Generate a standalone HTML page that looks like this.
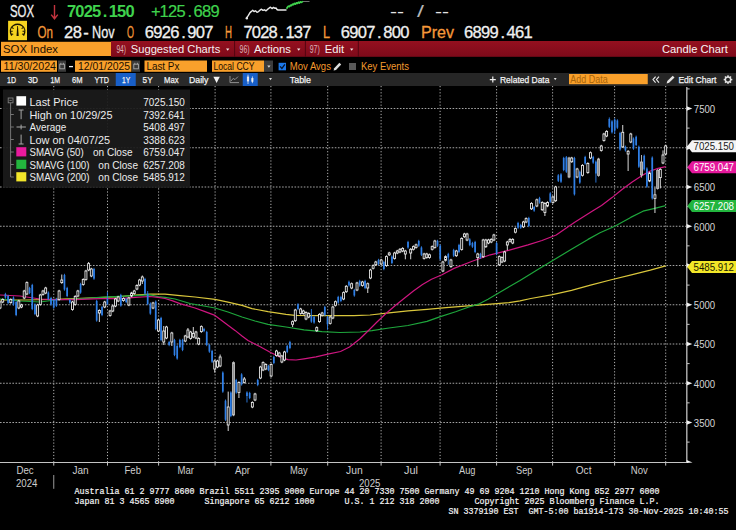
<!DOCTYPE html>
<html lang="en"><head><meta charset="utf-8"><title>SOX Index - Candle Chart</title>
<style>
html,body{margin:0;padding:0;background:#000;}
body{width:736px;height:530px;overflow:hidden;font-family:"Liberation Sans", sans-serif;}
svg{display:block;}
svg text{font-family:"Liberation Sans", sans-serif;white-space:pre;}
svg text.m{font-family:"Liberation Mono", monospace;}
</style></head><body>
<svg width="736" height="530" viewBox="0 0 736 530">
<defs><linearGradient id="rg" x1="0" y1="0" x2="0" y2="1"><stop offset="0" stop-color="#95101f"/><stop offset="1" stop-color="#7d0a1a"/></linearGradient></defs>
<rect width="736" height="530" fill="#000"/>
<text x="10" y="16.5" font-size="16.5" fill="#f0f0f0" textLength="24" lengthAdjust="spacingAndGlyphs" xml:space="preserve" stroke="#f0f0f0" stroke-width="0.3">SOX</text>
<path d="M54.5 5V18.4M51.2 14.6L54.5 18.8L57.8 14.6" stroke="#c4343f" stroke-width="1.4" fill="none"/>
<text x="71.60 79.95 88.30 96.65 105.00 113.35 121.70 130.05" y="16.5" font-size="16.5" fill="#3fd24d" stroke="#3fd24d" stroke-width="0" text-anchor="middle" font-weight="bold">7025.150</text>
<text x="155.70 164.20 172.70 181.20 189.70 198.20 206.70 215.20" y="16.5" font-size="16.5" fill="#3fd24d" stroke="#3fd24d" stroke-width="0.2" text-anchor="middle">+125.689</text>
<polyline points="246.6,19 247.2,17 248.4,15.4 250,12.6 251.4,11.4 252.7,10.2 254,11.5 255.5,10.8 257,12.3 258.5,11.6 260,10.2 261.5,9.2 263,10.4 264.5,9.8 266,10.8 267.5,9.4 269,8.2 270.5,7.2 272,8.6 273.5,7.4 275,8.4 276,8 277,9.5 278,10 286.5,10" fill="none" stroke="#e8e8e8" stroke-width="1.4" stroke-linejoin="round"/>
<circle cx="246.8" cy="18.2" r="1.2" fill="#e8e8e8"/>
<polyline points="286.5,8.8 287.5,7.2 288.5,6.2 289.5,6.6 290.5,5.2 291.5,5.6 292.5,4.2 293.5,4.6 294.5,3.4 295.5,4.2 296.5,2.8 297.5,3.4 298.5,2.2 299.5,3 300.5,1.8 301.5,2.4 303,1.4" fill="none" stroke="#3fd24d" stroke-width="1.7" stroke-linejoin="round"/>
<line x1="303" y1="1.5" x2="309.5" y2="1.5" stroke="#8a8a8a" stroke-width="0.8"/>
<text x="390" y="16.5" font-size="16.5" fill="#e4e4e4" textLength="14" lengthAdjust="spacingAndGlyphs" xml:space="preserve">--</text>
<text x="417" y="16.5" font-size="16.5" fill="#b4b4b4" textLength="7" lengthAdjust="spacingAndGlyphs" xml:space="preserve">/</text>
<text x="435" y="16.5" font-size="16.5" fill="#e4e4e4" textLength="14" lengthAdjust="spacingAndGlyphs" xml:space="preserve">--</text>
<rect x="8.1" y="20.8" width="18.9" height="19.4" fill="#f6d420"/>
<path d="M11.7 35.7C9.6 32 9.9 27.7 13.4 25.5C15.9 24 19.3 24 21.8 25.5C25.3 27.7 25.6 32 23.5 35.7" fill="none" stroke="#1a1400" stroke-width="1.35"/>
<path d="M16.5 35.9H18.7L17.95 26.1H17.25Z" fill="#1a1400"/>
<path d="M10.4 31.2h2.3M11.2 34.5l2-.5M11.9 27.5l1.7 1.1M24.8 31.2h-2.3M24 34.5l-2-.5M23.3 27.5l-1.7 1.1" stroke="#1a1400" stroke-width="1.1" fill="none"/>
<text x="37.5" y="37.5" font-size="16.5" fill="#f5993a" textLength="15.5" lengthAdjust="spacingAndGlyphs" xml:space="preserve" stroke="#f5993a" stroke-width="0.3">On</text>
<text x="68.70 77.40 86.10" y="37.5" font-size="16.5" fill="#f0f0f0" stroke="#f0f0f0" stroke-width="0.3" text-anchor="middle">28-</text>
<text x="92" y="37.5" font-size="16.5" fill="#f0f0f0" textLength="22.5" lengthAdjust="spacingAndGlyphs" xml:space="preserve" stroke="#f0f0f0" stroke-width="0.3">Nov</text>
<text x="127" y="37.5" font-size="16.5" fill="#f5993a" textLength="7" lengthAdjust="spacingAndGlyphs" xml:space="preserve" stroke="#f5993a" stroke-width="0.3">O</text>
<text x="149.45 157.95 166.45 174.95 183.45 191.95 200.45 208.95" y="37.5" font-size="16.5" fill="#f0f0f0" stroke="#f0f0f0" stroke-width="0.3" text-anchor="middle">6926.907</text>
<text x="225" y="37.5" font-size="16.5" fill="#f5993a" textLength="7" lengthAdjust="spacingAndGlyphs" xml:space="preserve" stroke="#f5993a" stroke-width="0.3">H</text>
<text x="248.00 256.40 264.80 273.20 281.60 290.00 298.40 306.80" y="37.5" font-size="16.5" fill="#f0f0f0" stroke="#f0f0f0" stroke-width="0.3" text-anchor="middle">7028.137</text>
<text x="323" y="37.5" font-size="16.5" fill="#f5993a" textLength="7" lengthAdjust="spacingAndGlyphs" xml:space="preserve" stroke="#f5993a" stroke-width="0.3">L</text>
<text x="345.30 353.80 362.30 370.80 379.30 387.80 396.30 404.80" y="37.5" font-size="16.5" fill="#f0f0f0" stroke="#f0f0f0" stroke-width="0.3" text-anchor="middle">6907.800</text>
<text x="421" y="37.5" font-size="16.5" fill="#f5993a" textLength="33" lengthAdjust="spacingAndGlyphs" xml:space="preserve" stroke="#f5993a" stroke-width="0.3">Prev</text>
<text x="468.70 477.20 485.70 494.20 502.70 511.20 519.70 528.20" y="37.5" font-size="16.5" fill="#f0f0f0" stroke="#f0f0f0" stroke-width="0.3" text-anchor="middle">6899.461</text>
<rect x="111" y="41" width="625" height="15.8" fill="url(#rg)"/>
<rect x="1" y="41.8" width="110" height="14.2" fill="#f9a02b"/>
<text x="3" y="52.5" font-size="11.6" fill="#1c1000" textLength="55" lengthAdjust="spacingAndGlyphs" xml:space="preserve">SOX Index</text>
<text x="116.4" y="52.5" font-size="11.6" fill="#dcb4ba" textLength="9.6" lengthAdjust="spacingAndGlyphs" xml:space="preserve">94)</text>
<text x="130.75" y="52.5" font-size="11.6" fill="#f6f0f0" textLength="89.5" lengthAdjust="spacingAndGlyphs" xml:space="preserve">Suggested Charts</text>
<text x="239.6" y="52.5" font-size="11.6" fill="#dcb4ba" textLength="10" lengthAdjust="spacingAndGlyphs" xml:space="preserve">96)</text>
<text x="254" y="52.5" font-size="11.6" fill="#f6f0f0" textLength="37" lengthAdjust="spacingAndGlyphs" xml:space="preserve">Actions</text>
<text x="309.75" y="52.5" font-size="11.6" fill="#dcb4ba" textLength="10" lengthAdjust="spacingAndGlyphs" xml:space="preserve">97)</text>
<text x="324.75" y="52.5" font-size="11.6" fill="#f6f0f0" textLength="19.3" lengthAdjust="spacingAndGlyphs" xml:space="preserve">Edit</text>
<path d="M226 48.4h3.4l-1.7 2.3z" fill="#f0e6e6"/>
<path d="M297 48.4h3.4l-1.7 2.3z" fill="#f0e6e6"/>
<path d="M350 48.4h3.4l-1.7 2.3z" fill="#f0e6e6"/>
<line x1="234.6" y1="41" x2="234.6" y2="56.8" stroke="#520511" stroke-width="1"/>
<line x1="305.4" y1="41" x2="305.4" y2="56.8" stroke="#520511" stroke-width="1"/>
<line x1="358.3" y1="41" x2="358.3" y2="56.8" stroke="#520511" stroke-width="1"/>
<text x="662" y="52.5" font-size="11.6" fill="#faf4f4" textLength="65.8" lengthAdjust="spacingAndGlyphs" xml:space="preserve">Candle Chart</text>
<rect x="1" y="60.5" width="56" height="11.3" fill="#f9a02b"/>
<text x="3.5" y="70" font-size="10.6" fill="#1c1000" textLength="52.5" lengthAdjust="spacingAndGlyphs" xml:space="preserve">11/30/2024</text>
<rect x="58" y="60.5" width="8" height="11.3" fill="#3a3a3a"/>
<rect x="59.8" y="64.2" width="4.6" height="4.6" fill="none" stroke="#a8a8a8" stroke-width="0.9"/><path d="M60.8 62.8v1.6M63.4 62.8v1.6" stroke="#a8a8a8" stroke-width="0.9"/>
<line x1="69" y1="66.6" x2="73" y2="66.6" stroke="#eee" stroke-width="1.3"/>
<rect x="75" y="60.5" width="56.4" height="11.3" fill="#f9a02b"/>
<text x="78" y="70" font-size="10.6" fill="#1c1000" textLength="52" lengthAdjust="spacingAndGlyphs" xml:space="preserve">12/01/2025</text>
<rect x="132" y="60.5" width="8" height="11.3" fill="#3a3a3a"/>
<rect x="133.8" y="64.2" width="4.6" height="4.6" fill="none" stroke="#a8a8a8" stroke-width="0.9"/><path d="M134.8 62.8v1.6M137.4 62.8v1.6" stroke="#a8a8a8" stroke-width="0.9"/>
<rect x="144.5" y="60.5" width="62.5" height="11.3" fill="#f9a02b"/>
<text x="146.4" y="70" font-size="10.6" fill="#1c1000" textLength="33" lengthAdjust="spacingAndGlyphs" xml:space="preserve">Last Px</text>
<rect x="212" y="60.5" width="52" height="11.3" fill="#f9a02b"/>
<text x="213.4" y="70" font-size="10.6" fill="#1c1000" textLength="41.2" lengthAdjust="spacingAndGlyphs" xml:space="preserve">Local CCY</text>
<rect x="264" y="60.5" width="9" height="11.3" fill="#3c3c3c"/>
<path d="M267.3 65.5h3.2l-1.6 2.3z" fill="#d8d8d8"/>
<rect x="278.6" y="62.8" width="7.4" height="7.5" fill="#1b78ea"/>
<path d="M280.1 66.4l1.8 2l3-4" fill="none" stroke="#06162e" stroke-width="1.3"/>
<text x="289.75" y="69.6" font-size="10.6" fill="#f39a2e" textLength="41.2" lengthAdjust="spacingAndGlyphs" xml:space="preserve">Mov Avgs</text>
<path d="M333.6 70.6l0.6-2.4l5.2-5.4l1.8 1.8l-5.2 5.4z" fill="#dcdcdc"/>
<rect x="349" y="63" width="7" height="7" fill="#585858"/>
<text x="361" y="69.6" font-size="10.6" fill="#f39a2e" textLength="48" lengthAdjust="spacingAndGlyphs" xml:space="preserve">Key Events</text>
<rect x="0" y="73" width="736" height="13" fill="#2a2a2a"/>
<rect x="320" y="73" width="416" height="13" fill="#262626"/>
<rect x="115.75" y="73" width="20.0" height="13" fill="#185fc8"/>
<text x="7" y="83.1" font-size="9.8" fill="#f4f4f4" textLength="9" lengthAdjust="spacingAndGlyphs" xml:space="preserve" stroke="#f4f4f4" stroke-width="0.25">1D</text>
<text x="28" y="83.1" font-size="9.8" fill="#f4f4f4" textLength="10" lengthAdjust="spacingAndGlyphs" xml:space="preserve" stroke="#f4f4f4" stroke-width="0.25">3D</text>
<text x="50.5" y="83.1" font-size="9.8" fill="#f4f4f4" textLength="9.6" lengthAdjust="spacingAndGlyphs" xml:space="preserve" stroke="#f4f4f4" stroke-width="0.25">1M</text>
<text x="72" y="83.1" font-size="9.8" fill="#f4f4f4" textLength="10.5" lengthAdjust="spacingAndGlyphs" xml:space="preserve" stroke="#f4f4f4" stroke-width="0.25">6M</text>
<text x="94.5" y="83.1" font-size="9.8" fill="#f4f4f4" textLength="14.5" lengthAdjust="spacingAndGlyphs" xml:space="preserve" stroke="#f4f4f4" stroke-width="0.25">YTD</text>
<text x="122" y="83.1" font-size="9.8" fill="#f4f4f4" textLength="8.2" lengthAdjust="spacingAndGlyphs" xml:space="preserve" stroke="#f4f4f4" stroke-width="0.25">1Y</text>
<text x="142.6" y="83.1" font-size="9.8" fill="#f4f4f4" textLength="10" lengthAdjust="spacingAndGlyphs" xml:space="preserve" stroke="#f4f4f4" stroke-width="0.25">5Y</text>
<text x="164" y="83.1" font-size="9.8" fill="#f4f4f4" textLength="14.6" lengthAdjust="spacingAndGlyphs" xml:space="preserve" stroke="#f4f4f4" stroke-width="0.25">Max</text>
<text x="189" y="83.1" font-size="9.8" fill="#f4f4f4" textLength="19.4" lengthAdjust="spacingAndGlyphs" xml:space="preserve" stroke="#f4f4f4" stroke-width="0.25">Daily</text>
<path d="M213.4 76.8h6.4l-3.2 6.2z" fill="#f4f4f4"/>
<path d="M230 76v6.6h9M231 81l2.2-2.6l1.8 1.2l3-3" fill="none" stroke="#9a9a9a" stroke-width="0.9"/>
<rect x="242.75" y="73" width="15.0" height="13" fill="#185fc8"/>
<g stroke="#f0f0f0" stroke-width="0.75" fill="#f0f0f0"><path d="M248 74.6v9.4M252.4 76.4v6.8"/><rect x="247.3" y="77" width="1.4" height="4"/><rect x="251.8" y="78.6" width="1.2" height="2.8"/></g>
<path d="M269 78h3l-1.5 2.2z" fill="#ddd"/>
<text x="289.75" y="83.1" font-size="9.8" fill="#f4f4f4" textLength="21.3" lengthAdjust="spacingAndGlyphs" xml:space="preserve" stroke="#f4f4f4" stroke-width="0.25">Table</text>
<path d="M492.8 76.6v6M489.8 79.6h6" stroke="#eee" stroke-width="1.2"/>
<text x="500" y="83.1" font-size="9.8" fill="#f4f4f4" textLength="49.4" lengthAdjust="spacingAndGlyphs" xml:space="preserve" stroke="#f4f4f4" stroke-width="0.25">Related Data</text>
<path d="M553.8 78h2.8l-1.4 2.2z" fill="#ddd"/>
<rect x="569" y="74" width="78.75" height="10.2" fill="#f9a02b"/>
<text x="570.3" y="82.8" font-size="10.200000000000001" fill="#a9650a" textLength="37.4" lengthAdjust="spacingAndGlyphs" xml:space="preserve">Add Data</text>
<path d="M655.6 76.6l-2.6 3l2.6 3M659 76.6l-2.6 3l2.6 3" fill="none" stroke="#eee" stroke-width="1.1"/>
<path d="M666.6 83.4l0.7-2.5l5.4-5.2l1.8 1.8l-5.4 5.2z" fill="#e4e4e4"/>
<text x="678.4" y="83.1" font-size="9.8" fill="#f4f4f4" textLength="38" lengthAdjust="spacingAndGlyphs" xml:space="preserve" stroke="#f4f4f4" stroke-width="0.25">Edit Chart</text>
<g transform="translate(728 79.6)"><circle r="2.7" fill="none" stroke="#e4e4e4" stroke-width="1.5"/><rect x="-0.75" y="-4.3" width="1.5" height="1.7" fill="#e4e4e4" transform="rotate(0)"/><rect x="-0.75" y="-4.3" width="1.5" height="1.7" fill="#e4e4e4" transform="rotate(45)"/><rect x="-0.75" y="-4.3" width="1.5" height="1.7" fill="#e4e4e4" transform="rotate(90)"/><rect x="-0.75" y="-4.3" width="1.5" height="1.7" fill="#e4e4e4" transform="rotate(135)"/><rect x="-0.75" y="-4.3" width="1.5" height="1.7" fill="#e4e4e4" transform="rotate(180)"/><rect x="-0.75" y="-4.3" width="1.5" height="1.7" fill="#e4e4e4" transform="rotate(225)"/><rect x="-0.75" y="-4.3" width="1.5" height="1.7" fill="#e4e4e4" transform="rotate(270)"/><rect x="-0.75" y="-4.3" width="1.5" height="1.7" fill="#e4e4e4" transform="rotate(315)"/></g>
<g stroke="#a4a4a4" stroke-width="1" stroke-dasharray="1.6 1.5" fill="none">
<line x1="0" y1="108.50" x2="686" y2="108.50"/>
<line x1="0" y1="147.75" x2="686" y2="147.75"/>
<line x1="0" y1="187.00" x2="686" y2="187.00"/>
<line x1="0" y1="226.25" x2="686" y2="226.25"/>
<line x1="0" y1="265.50" x2="686" y2="265.50"/>
<line x1="0" y1="304.75" x2="686" y2="304.75"/>
<line x1="0" y1="344.00" x2="686" y2="344.00"/>
<line x1="0" y1="383.25" x2="686" y2="383.25"/>
<line x1="0" y1="422.50" x2="686" y2="422.50"/>
</g><g stroke="#b2b2b2" stroke-width="1" stroke-dasharray="1.2 1.9" fill="none">
<line x1="53.75" y1="86" x2="53.75" y2="462"/>
<line x1="107.5" y1="86" x2="107.5" y2="462"/>
<line x1="158.6" y1="86" x2="158.6" y2="462"/>
<line x1="215.1" y1="86" x2="215.1" y2="462"/>
<line x1="270.9" y1="86" x2="270.9" y2="462"/>
<line x1="327.7" y1="86" x2="327.7" y2="462"/>
<line x1="381.1" y1="86" x2="381.1" y2="462"/>
<line x1="440.1" y1="86" x2="440.1" y2="462"/>
<line x1="496.6" y1="86" x2="496.6" y2="462"/>
<line x1="552.6" y1="86" x2="552.6" y2="462"/>
<line x1="614.6" y1="86" x2="614.6" y2="462"/>
<line x1="665.7" y1="86" x2="665.7" y2="462"/>
</g>
<rect x="3" y="89.5" width="187" height="98.3" fill="#1b1b1b" fill-opacity="0.93"/>
<polyline fill="none" stroke="#d9c63c" stroke-width="1.2" stroke-linejoin="round" points="0,300 25,300 50,299.5 88,298 120,296.7 135,295 150,294.2 165,294.2 180,295.6 195,297 215,299.3 228,302.2 242,305.4 252,308.6 268,311.7 286,314.3 295,315.3 320,315.7 354,315.7 370,315 389,312.8 408,310.9 427,309.4 446,307.7 465,306.1 484,304.6 497,303.6 509,302.6 520,300.8 530.8,298.5 552.5,294.6 571.5,290.3 590.5,285.2 612.3,279.5 631.3,274.8 650.3,270.2 665.7,265.8"/>
<polyline fill="none" stroke="#1ea63c" stroke-width="1.2" stroke-linejoin="round" points="0,299 20,301 40,302 55,300 75,299 100,297.4 125,296.2 150,294.9 158,296.6 165,297.3 175,299 190,303.5 215,308 228,312 242,317 255,321 268,324.3 286,327 304,329.8 322,331.6 340,332.5 360,332 372,330.6 389,328 408,325.5 427,321.4 440.4,316.6 455.6,311.8 468.9,307 478.4,304.2 488,299.2 499.4,292.6 510,286.2 520,280.6 537,270 554,259.8 571,249.5 588,239.4 600,232.8 614.8,226.2 630.7,217.4 643,211.2 653.6,208.6 665.7,205.6"/>
<polyline fill="none" stroke="#cf1680" stroke-width="1.2" stroke-linejoin="round" points="0,295 20,296 40,299 55,299.6 75,299.6 100,298.6 120,298.6 135,297.4 150,296.5 158,297.4 165,298.5 172,300.6 180,303.6 195,308 205,311.6 215,315.4 225,323 235,330.4 242,336 248,340.5 259.8,346.5 270.6,352.5 281.5,357.6 288,359.6 296,360 304,358.8 316,356.8 327.8,354.2 340.5,351.5 349.5,347 360,338.8 368,331 377,322 386,313.5 395.3,305.5 404.3,298.2 413.4,291 422.5,284.6 431.5,279.2 442,274.7 454,268.4 472.2,261.2 490.3,254.8 508.5,250.3 528,244.9 542,240.5 556.2,235 574.3,222.6 592.5,211 601.5,205.4 612,197.6 622,189.5 632.2,182 641.3,175.9 650.3,171 658,168.4 665.7,166.6"/>
<g>
<path d="M0.05 300.8V302.0M0.05 308.0V309.2" stroke="#f2f2f2" stroke-width="0.9"/><rect x="-0.93" y="302.0" width="1.96" height="6.0" fill="#000" stroke="#f2f2f2" stroke-width="0.85"/>
<path d="M2.73 298.3V299.5M2.73 302.0V303.2" stroke="#f2f2f2" stroke-width="0.9"/><rect x="1.75" y="299.5" width="1.96" height="2.5" fill="#000" stroke="#f2f2f2" stroke-width="0.85"/>
<path d="M5.42 292.8V298.8" stroke="#2f7fe6" stroke-width="0.9"/><rect x="4.57" y="294.0" width="1.7" height="3.6" fill="#2f7fe6"/>
<path d="M8.10 294.8V304.2" stroke="#2f7fe6" stroke-width="0.9"/><rect x="7.25" y="296.0" width="1.7" height="7.0" fill="#2f7fe6"/>
<path d="M10.79 298.3V299.5M10.79 302.6V303.8" stroke="#f2f2f2" stroke-width="0.9"/><rect x="9.81" y="299.5" width="1.96" height="3.1" fill="#000" stroke="#f2f2f2" stroke-width="0.85"/>
<path d="M13.47 296.4V305.7" stroke="#2f7fe6" stroke-width="0.9"/><rect x="12.62" y="297.6" width="1.7" height="6.9" fill="#2f7fe6"/>
<path d="M16.15 300.8V316.2" stroke="#2f7fe6" stroke-width="0.9"/><rect x="15.30" y="302.0" width="1.7" height="13.0" fill="#2f7fe6"/>
<path d="M18.84 299.8V301.0M18.84 308.0V309.2" stroke="#f2f2f2" stroke-width="0.9"/><rect x="17.86" y="301.0" width="1.96" height="7.0" fill="#000" stroke="#f2f2f2" stroke-width="0.85"/>
<path d="M21.52 303.8V305.0M21.52 307.0V308.2" stroke="#f2f2f2" stroke-width="0.9"/><rect x="20.54" y="305.0" width="1.96" height="2.0" fill="#000" stroke="#f2f2f2" stroke-width="0.85"/>
<path d="M24.21 289.8V291.0M24.21 298.0V299.2" stroke="#f2f2f2" stroke-width="0.9"/><rect x="23.23" y="291.0" width="1.96" height="7.0" fill="#000" stroke="#f2f2f2" stroke-width="0.85"/>
<path d="M26.89 281.4V282.6M26.89 294.0V295.2" stroke="#f2f2f2" stroke-width="0.9"/><rect x="25.91" y="282.6" width="1.96" height="11.4" fill="#000" stroke="#f2f2f2" stroke-width="0.85"/>
<path d="M29.57 286.8V294.2" stroke="#2f7fe6" stroke-width="0.9"/><rect x="28.72" y="288.0" width="1.7" height="5.0" fill="#2f7fe6"/>
<path d="M32.26 283.8V310.2" stroke="#2f7fe6" stroke-width="0.9"/><rect x="31.41" y="285.0" width="1.7" height="24.0" fill="#2f7fe6"/>
<path d="M34.94 303.3V315.2" stroke="#2f7fe6" stroke-width="0.9"/><rect x="34.09" y="304.5" width="1.7" height="9.5" fill="#2f7fe6"/>
<path d="M37.63 303.8V305.0M37.63 316.0V317.2" stroke="#f2f2f2" stroke-width="0.9"/><rect x="36.65" y="305.0" width="1.96" height="11.0" fill="#000" stroke="#f2f2f2" stroke-width="0.85"/>
<path d="M40.31 293.8V295.0M40.31 304.5V305.7" stroke="#f2f2f2" stroke-width="0.9"/><rect x="39.33" y="295.0" width="1.96" height="9.5" fill="#000" stroke="#f2f2f2" stroke-width="0.85"/>
<path d="M42.99 289.8V291.0M42.99 294.5V295.7" stroke="#f2f2f2" stroke-width="0.9"/><rect x="42.01" y="291.0" width="1.96" height="3.5" fill="#000" stroke="#f2f2f2" stroke-width="0.85"/>
<path d="M45.68 286.8V288.0M45.68 293.0V294.2" stroke="#f2f2f2" stroke-width="0.9"/><rect x="44.70" y="288.0" width="1.96" height="5.0" fill="#000" stroke="#f2f2f2" stroke-width="0.85"/>
<path d="M48.36 291.4V300.2" stroke="#2f7fe6" stroke-width="0.9"/><rect x="47.51" y="292.6" width="1.7" height="6.4" fill="#2f7fe6"/>
<path d="M51.05 296.8V305.7" stroke="#2f7fe6" stroke-width="0.9"/><rect x="50.20" y="298.0" width="1.7" height="6.5" fill="#2f7fe6"/>
<path d="M53.73 298.8V308.8" stroke="#2f7fe6" stroke-width="0.9"/><rect x="52.88" y="300.0" width="1.7" height="7.6" fill="#2f7fe6"/>
<path d="M56.41 297.8V306.9" stroke="#2f7fe6" stroke-width="0.9"/><rect x="55.56" y="299.0" width="1.7" height="6.8" fill="#2f7fe6"/>
<path d="M59.10 289.8V291.0M59.10 299.5V300.7" stroke="#f2f2f2" stroke-width="0.9"/><rect x="58.12" y="291.0" width="1.96" height="8.5" fill="#000" stroke="#f2f2f2" stroke-width="0.85"/>
<path d="M61.78 274.5V280.0M61.78 282.6V283.8" stroke="#f2f2f2" stroke-width="0.9"/><rect x="60.80" y="280.0" width="1.96" height="2.6" fill="#000" stroke="#f2f2f2" stroke-width="0.85"/>
<path d="M64.47 273.8V290.7" stroke="#2f7fe6" stroke-width="0.9"/><rect x="63.62" y="275.0" width="1.7" height="14.5" fill="#2f7fe6"/>
<path d="M67.15 286.8V297.2" stroke="#2f7fe6" stroke-width="0.9"/><rect x="66.30" y="288.0" width="1.7" height="8.0" fill="#2f7fe6"/>
<path d="M69.83 298.8V303.8" stroke="#2f7fe6" stroke-width="0.9"/><rect x="68.98" y="300.0" width="1.7" height="2.6" fill="#2f7fe6"/>
<path d="M72.52 300.8V302.0M72.52 309.5V310.7" stroke="#f2f2f2" stroke-width="0.9"/><rect x="71.54" y="302.0" width="1.96" height="7.5" fill="#000" stroke="#f2f2f2" stroke-width="0.85"/>
<path d="M75.20 295.2V296.4M75.20 304.5V305.7" stroke="#f2f2f2" stroke-width="0.9"/><rect x="74.22" y="296.4" width="1.96" height="8.1" fill="#000" stroke="#f2f2f2" stroke-width="0.85"/>
<path d="M77.89 289.8V291.0M77.89 296.0V297.2" stroke="#f2f2f2" stroke-width="0.9"/><rect x="76.91" y="291.0" width="1.96" height="5.0" fill="#000" stroke="#f2f2f2" stroke-width="0.85"/>
<path d="M80.57 282.8V293.8" stroke="#2f7fe6" stroke-width="0.9"/><rect x="79.72" y="284.0" width="1.7" height="8.6" fill="#2f7fe6"/>
<path d="M83.25 278.3V279.5M83.25 284.5V285.7" stroke="#f2f2f2" stroke-width="0.9"/><rect x="82.27" y="279.5" width="1.96" height="5.0" fill="#000" stroke="#f2f2f2" stroke-width="0.85"/>
<path d="M85.94 269.8V271.0M85.94 279.5V280.7" stroke="#f2f2f2" stroke-width="0.9"/><rect x="84.96" y="271.0" width="1.96" height="8.5" fill="#000" stroke="#f2f2f2" stroke-width="0.85"/>
<path d="M88.62 262.0V263.6M88.62 270.0V271.2" stroke="#f2f2f2" stroke-width="0.9"/><rect x="87.64" y="263.6" width="1.96" height="6.4" fill="#000" stroke="#f2f2f2" stroke-width="0.85"/>
<path d="M91.31 267.8V269.0M91.31 276.0V277.2" stroke="#f2f2f2" stroke-width="0.9"/><rect x="90.33" y="269.0" width="1.96" height="7.0" fill="#000" stroke="#f2f2f2" stroke-width="0.85"/>
<path d="M93.99 267.8V279.8" stroke="#2f7fe6" stroke-width="0.9"/><rect x="93.14" y="269.0" width="1.7" height="9.6" fill="#2f7fe6"/>
<path d="M96.67 299.8V321.7" stroke="#2f7fe6" stroke-width="0.9"/><rect x="95.82" y="301.0" width="1.7" height="19.5" fill="#2f7fe6"/>
<path d="M99.36 309.3V310.5M99.36 313.0V322.0" stroke="#f2f2f2" stroke-width="0.9"/><rect x="98.38" y="310.5" width="1.96" height="2.5" fill="#000" stroke="#f2f2f2" stroke-width="0.85"/>
<path d="M102.04 305.8V316.2" stroke="#2f7fe6" stroke-width="0.9"/><rect x="101.19" y="307.0" width="1.7" height="8.0" fill="#2f7fe6"/>
<path d="M104.73 300.8V302.0M104.73 307.0V308.2" stroke="#f2f2f2" stroke-width="0.9"/><rect x="103.75" y="302.0" width="1.96" height="5.0" fill="#000" stroke="#f2f2f2" stroke-width="0.85"/>
<path d="M107.41 292.0V305.2" stroke="#2f7fe6" stroke-width="0.9"/><rect x="106.56" y="299.0" width="1.7" height="5.0" fill="#2f7fe6"/>
<path d="M110.09 309.8V311.0M110.09 315.5V316.7" stroke="#f2f2f2" stroke-width="0.9"/><rect x="109.11" y="311.0" width="1.96" height="4.5" fill="#000" stroke="#f2f2f2" stroke-width="0.85"/>
<path d="M112.78 304.8V306.0M112.78 311.0V312.2" stroke="#f2f2f2" stroke-width="0.9"/><rect x="111.80" y="306.0" width="1.96" height="5.0" fill="#000" stroke="#f2f2f2" stroke-width="0.85"/>
<path d="M115.46 297.8V299.0M115.46 306.0V307.2" stroke="#f2f2f2" stroke-width="0.9"/><rect x="114.48" y="299.0" width="1.96" height="7.0" fill="#000" stroke="#f2f2f2" stroke-width="0.85"/>
<path d="M118.15 295.8V297.0M118.15 301.0V302.2" stroke="#f2f2f2" stroke-width="0.9"/><rect x="117.17" y="297.0" width="1.96" height="4.0" fill="#000" stroke="#f2f2f2" stroke-width="0.85"/>
<path d="M120.83 293.8V306.7" stroke="#2f7fe6" stroke-width="0.9"/><rect x="119.98" y="295.0" width="1.7" height="10.5" fill="#2f7fe6"/>
<path d="M123.51 297.4V298.6M123.51 300.5V301.7" stroke="#f2f2f2" stroke-width="0.9"/><rect x="122.53" y="298.6" width="1.96" height="1.9" fill="#000" stroke="#f2f2f2" stroke-width="0.85"/>
<path d="M126.20 297.8V303.2" stroke="#2f7fe6" stroke-width="0.9"/><rect x="125.35" y="299.0" width="1.7" height="3.0" fill="#2f7fe6"/>
<path d="M128.88 296.8V298.0M128.88 305.0V306.2" stroke="#f2f2f2" stroke-width="0.9"/><rect x="127.90" y="298.0" width="1.96" height="7.0" fill="#000" stroke="#f2f2f2" stroke-width="0.85"/>
<path d="M131.57 291.8V293.0M131.57 296.0V297.2" stroke="#f2f2f2" stroke-width="0.9"/><rect x="130.59" y="293.0" width="1.96" height="3.0" fill="#000" stroke="#f2f2f2" stroke-width="0.85"/>
<path d="M134.25 289.8V291.0M134.25 293.6V294.8" stroke="#f2f2f2" stroke-width="0.9"/><rect x="133.27" y="291.0" width="1.96" height="2.6" fill="#000" stroke="#f2f2f2" stroke-width="0.85"/>
<path d="M136.93 284.3V285.5M136.93 289.0V290.2" stroke="#f2f2f2" stroke-width="0.9"/><rect x="135.95" y="285.5" width="1.96" height="3.5" fill="#000" stroke="#f2f2f2" stroke-width="0.85"/>
<path d="M139.62 278.8V280.0M139.62 285.0V286.2" stroke="#f2f2f2" stroke-width="0.9"/><rect x="138.64" y="280.0" width="1.96" height="5.0" fill="#000" stroke="#f2f2f2" stroke-width="0.85"/>
<path d="M142.30 275.5V277.0M142.30 281.0V284.0" stroke="#f2f2f2" stroke-width="0.9"/><rect x="141.32" y="277.0" width="1.96" height="4.0" fill="#000" stroke="#f2f2f2" stroke-width="0.85"/>
<path d="M144.99 277.8V294.8" stroke="#2f7fe6" stroke-width="0.9"/><rect x="144.14" y="279.0" width="1.7" height="14.6" fill="#2f7fe6"/>
<path d="M147.67 291.0V305.2" stroke="#2f7fe6" stroke-width="0.9"/><rect x="146.82" y="293.6" width="1.7" height="10.4" fill="#2f7fe6"/>
<path d="M150.35 302.4V314.8" stroke="#2f7fe6" stroke-width="0.9"/><rect x="149.50" y="303.6" width="1.7" height="10.0" fill="#2f7fe6"/>
<path d="M153.04 301.8V303.0M153.04 308.0V309.2" stroke="#f2f2f2" stroke-width="0.9"/><rect x="152.06" y="303.0" width="1.96" height="5.0" fill="#000" stroke="#f2f2f2" stroke-width="0.85"/>
<path d="M155.72 300.4V330.2" stroke="#2f7fe6" stroke-width="0.9"/><rect x="154.87" y="301.6" width="1.7" height="27.4" fill="#2f7fe6"/>
<path d="M158.41 318.8V320.0M158.41 331.0V332.0" stroke="#f2f2f2" stroke-width="0.9"/><rect x="157.43" y="320.0" width="1.96" height="11.0" fill="#000" stroke="#f2f2f2" stroke-width="0.85"/>
<path d="M161.09 316.8V341.2" stroke="#2f7fe6" stroke-width="0.9"/><rect x="160.24" y="318.0" width="1.7" height="22.0" fill="#2f7fe6"/>
<path d="M163.77 326.0V331.0M163.77 342.0V345.0" stroke="#f2f2f2" stroke-width="0.9"/><rect x="162.79" y="331.0" width="1.96" height="11.0" fill="#000" stroke="#f2f2f2" stroke-width="0.85"/>
<path d="M166.46 325.8V327.0M166.46 338.0V339.2" stroke="#f2f2f2" stroke-width="0.9"/><rect x="165.48" y="327.0" width="1.96" height="11.0" fill="#000" stroke="#f2f2f2" stroke-width="0.85"/>
<path d="M169.14 340.8V346.2" stroke="#2f7fe6" stroke-width="0.9"/><rect x="168.29" y="342.0" width="1.7" height="3.0" fill="#2f7fe6"/>
<path d="M171.83 331.8V333.0M171.83 342.0V346.0" stroke="#f2f2f2" stroke-width="0.9"/><rect x="170.85" y="333.0" width="1.96" height="9.0" fill="#000" stroke="#f2f2f2" stroke-width="0.85"/>
<path d="M174.51 338.8V356.2" stroke="#2f7fe6" stroke-width="0.9"/><rect x="173.66" y="340.0" width="1.7" height="15.0" fill="#2f7fe6"/>
<path d="M177.19 344.8V359.7" stroke="#2f7fe6" stroke-width="0.9"/><rect x="176.34" y="346.0" width="1.7" height="12.5" fill="#2f7fe6"/>
<path d="M179.88 338.8V348.2" stroke="#2f7fe6" stroke-width="0.9"/><rect x="179.03" y="340.0" width="1.7" height="7.0" fill="#2f7fe6"/>
<path d="M182.56 338.8V351.2" stroke="#2f7fe6" stroke-width="0.9"/><rect x="181.71" y="340.0" width="1.7" height="10.0" fill="#2f7fe6"/>
<path d="M185.25 334.8V336.0M185.25 341.0V342.2" stroke="#f2f2f2" stroke-width="0.9"/><rect x="184.27" y="336.0" width="1.96" height="5.0" fill="#000" stroke="#f2f2f2" stroke-width="0.85"/>
<path d="M187.93 328.0V330.0M187.93 337.0V338.2" stroke="#f2f2f2" stroke-width="0.9"/><rect x="186.95" y="330.0" width="1.96" height="7.0" fill="#000" stroke="#f2f2f2" stroke-width="0.85"/>
<path d="M190.61 330.8V332.0M190.61 338.5V339.7" stroke="#f2f2f2" stroke-width="0.9"/><rect x="189.63" y="332.0" width="1.96" height="6.5" fill="#000" stroke="#f2f2f2" stroke-width="0.85"/>
<path d="M193.30 327.0V333.5M193.30 337.0V338.2" stroke="#f2f2f2" stroke-width="0.9"/><rect x="192.32" y="333.5" width="1.96" height="3.5" fill="#000" stroke="#f2f2f2" stroke-width="0.85"/>
<path d="M195.98 330.8V332.0M195.98 338.0V339.2" stroke="#f2f2f2" stroke-width="0.9"/><rect x="195.00" y="332.0" width="1.96" height="6.0" fill="#000" stroke="#f2f2f2" stroke-width="0.85"/>
<path d="M198.67 337.3V338.5M198.67 344.0V345.2" stroke="#f2f2f2" stroke-width="0.9"/><rect x="197.69" y="338.5" width="1.96" height="5.5" fill="#000" stroke="#f2f2f2" stroke-width="0.85"/>
<path d="M201.35 325.4V326.6M201.35 331.6V332.8" stroke="#f2f2f2" stroke-width="0.9"/><rect x="200.37" y="326.6" width="1.96" height="5.0" fill="#000" stroke="#f2f2f2" stroke-width="0.85"/>
<path d="M204.03 327.8V332.2" stroke="#2f7fe6" stroke-width="0.9"/><rect x="203.18" y="329.0" width="1.7" height="2.0" fill="#2f7fe6"/>
<path d="M206.72 330.8V346.2" stroke="#2f7fe6" stroke-width="0.9"/><rect x="205.87" y="332.0" width="1.7" height="13.0" fill="#2f7fe6"/>
<path d="M209.40 343.8V352.8" stroke="#2f7fe6" stroke-width="0.9"/><rect x="208.55" y="345.0" width="1.7" height="6.6" fill="#2f7fe6"/>
<path d="M212.09 349.8V362.9" stroke="#2f7fe6" stroke-width="0.9"/><rect x="211.24" y="351.0" width="1.7" height="10.7" fill="#2f7fe6"/>
<path d="M214.77 359.8V361.0M214.77 369.0V372.6" stroke="#f2f2f2" stroke-width="0.9"/><rect x="213.79" y="361.0" width="1.96" height="8.0" fill="#000" stroke="#f2f2f2" stroke-width="0.85"/>
<path d="M217.45 359.8V361.0M217.45 367.0V368.2" stroke="#f2f2f2" stroke-width="0.9"/><rect x="216.47" y="361.0" width="1.96" height="6.0" fill="#000" stroke="#f2f2f2" stroke-width="0.85"/>
<path d="M220.14 354.5V357.0M220.14 366.0V367.2" stroke="#f2f2f2" stroke-width="0.9"/><rect x="219.16" y="357.0" width="1.96" height="9.0" fill="#000" stroke="#f2f2f2" stroke-width="0.85"/>
<path d="M222.82 371.4V392.8" stroke="#2f7fe6" stroke-width="0.9"/><rect x="221.97" y="372.6" width="1.7" height="19.0" fill="#2f7fe6"/>
<path d="M225.51 399.5V420.9" stroke="#2f7fe6" stroke-width="0.9"/><rect x="224.66" y="400.7" width="1.7" height="19.0" fill="#2f7fe6"/>
<path d="M228.19 391.6V407.0M228.19 425.0V431.0" stroke="#f2f2f2" stroke-width="0.9"/><rect x="227.21" y="407.0" width="1.96" height="18.0" fill="#000" stroke="#f2f2f2" stroke-width="0.85"/>
<path d="M230.87 391.3V417.2" stroke="#2f7fe6" stroke-width="0.9"/><rect x="230.02" y="392.5" width="1.7" height="23.5" fill="#2f7fe6"/>
<path d="M233.56 361.4V362.6M233.56 415.0V416.2" stroke="#c4c4c4" stroke-width="0.9"/><rect x="232.58" y="362.6" width="1.96" height="52.4" fill="#8e8e8e" stroke="#c4c4c4" stroke-width="0.85"/>
<path d="M236.24 378.8V393.7" stroke="#2f7fe6" stroke-width="0.9"/><rect x="235.39" y="380.0" width="1.7" height="12.5" fill="#2f7fe6"/>
<path d="M238.93 381.3V382.5M238.93 392.5V398.0" stroke="#f2f2f2" stroke-width="0.9"/><rect x="237.95" y="382.5" width="1.96" height="10.0" fill="#000" stroke="#f2f2f2" stroke-width="0.85"/>
<path d="M241.61 373.2V385.6" stroke="#2f7fe6" stroke-width="0.9"/><rect x="240.76" y="374.4" width="1.7" height="10.0" fill="#2f7fe6"/>
<path d="M244.29 377.0V379.0M244.29 382.5V383.5" stroke="#f2f2f2" stroke-width="0.9"/><rect x="243.31" y="379.0" width="1.96" height="3.5" fill="#000" stroke="#f2f2f2" stroke-width="0.85"/>
<path d="M246.98 391.3V402.5" stroke="#2f7fe6" stroke-width="0.9"/><rect x="246.13" y="392.5" width="1.7" height="3.5" fill="#2f7fe6"/>
<path d="M249.66 391.8V399.2" stroke="#2f7fe6" stroke-width="0.9"/><rect x="248.81" y="393.0" width="1.7" height="5.0" fill="#2f7fe6"/>
<path d="M252.35 401.3V402.5M252.35 407.0V408.2" stroke="#f2f2f2" stroke-width="0.9"/><rect x="251.37" y="402.5" width="1.96" height="4.5" fill="#000" stroke="#f2f2f2" stroke-width="0.85"/>
<path d="M255.03 392.8V394.0M255.03 400.0V401.2" stroke="#f2f2f2" stroke-width="0.9"/><rect x="254.05" y="394.0" width="1.96" height="6.0" fill="#000" stroke="#f2f2f2" stroke-width="0.85"/>
<path d="M257.71 378.8V386.2" stroke="#2f7fe6" stroke-width="0.9"/><rect x="256.86" y="380.0" width="1.7" height="5.0" fill="#2f7fe6"/>
<path d="M260.40 365.8V367.0M260.40 378.0V379.2" stroke="#f2f2f2" stroke-width="0.9"/><rect x="259.42" y="367.0" width="1.96" height="11.0" fill="#000" stroke="#f2f2f2" stroke-width="0.85"/>
<path d="M263.08 361.4V362.6M263.08 370.0V371.2" stroke="#f2f2f2" stroke-width="0.9"/><rect x="262.10" y="362.6" width="1.96" height="7.4" fill="#000" stroke="#f2f2f2" stroke-width="0.85"/>
<path d="M265.77 363.3V364.5M265.77 369.0V370.2" stroke="#f2f2f2" stroke-width="0.9"/><rect x="264.79" y="364.5" width="1.96" height="4.5" fill="#000" stroke="#f2f2f2" stroke-width="0.85"/>
<path d="M268.45 364.8V371.2" stroke="#2f7fe6" stroke-width="0.9"/><rect x="267.60" y="366.0" width="1.7" height="4.0" fill="#2f7fe6"/>
<path d="M271.13 363.3V364.5M271.13 376.0V377.2" stroke="#f2f2f2" stroke-width="0.9"/><rect x="270.15" y="364.5" width="1.96" height="11.5" fill="#000" stroke="#f2f2f2" stroke-width="0.85"/>
<path d="M273.82 355.8V364.2" stroke="#2f7fe6" stroke-width="0.9"/><rect x="272.97" y="357.0" width="1.7" height="6.0" fill="#2f7fe6"/>
<path d="M276.50 349.8V351.0M276.50 355.4V356.6" stroke="#f2f2f2" stroke-width="0.9"/><rect x="275.52" y="351.0" width="1.96" height="4.4" fill="#000" stroke="#f2f2f2" stroke-width="0.85"/>
<path d="M279.19 351.8V353.0M279.19 356.0V357.2" stroke="#f2f2f2" stroke-width="0.9"/><rect x="278.21" y="353.0" width="1.96" height="3.0" fill="#000" stroke="#f2f2f2" stroke-width="0.85"/>
<path d="M281.87 354.8V356.0M281.87 362.0V363.2" stroke="#f2f2f2" stroke-width="0.9"/><rect x="280.89" y="356.0" width="1.96" height="6.0" fill="#000" stroke="#f2f2f2" stroke-width="0.85"/>
<path d="M284.55 350.8V352.0M284.55 360.0V361.2" stroke="#f2f2f2" stroke-width="0.9"/><rect x="283.57" y="352.0" width="1.96" height="8.0" fill="#000" stroke="#f2f2f2" stroke-width="0.85"/>
<path d="M287.24 344.8V353.2" stroke="#2f7fe6" stroke-width="0.9"/><rect x="286.39" y="346.0" width="1.7" height="6.0" fill="#2f7fe6"/>
<path d="M289.92 340.8V349.2" stroke="#2f7fe6" stroke-width="0.9"/><rect x="289.07" y="342.0" width="1.7" height="6.0" fill="#2f7fe6"/>
<path d="M292.61 320.4V321.6M292.61 324.3V327.0" stroke="#f2f2f2" stroke-width="0.9"/><rect x="291.63" y="321.6" width="1.96" height="2.7" fill="#000" stroke="#f2f2f2" stroke-width="0.85"/>
<path d="M295.29 308.8V310.0M295.29 320.7V321.9" stroke="#f2f2f2" stroke-width="0.9"/><rect x="294.31" y="310.0" width="1.96" height="10.7" fill="#000" stroke="#f2f2f2" stroke-width="0.85"/>
<path d="M297.97 303.2V310.2" stroke="#2f7fe6" stroke-width="0.9"/><rect x="297.12" y="304.4" width="1.7" height="4.6" fill="#2f7fe6"/>
<path d="M300.66 307.8V309.0M300.66 313.5V314.7" stroke="#f2f2f2" stroke-width="0.9"/><rect x="299.68" y="309.0" width="1.96" height="4.5" fill="#000" stroke="#f2f2f2" stroke-width="0.85"/>
<path d="M303.34 309.8V311.0M303.34 313.5V314.7" stroke="#f2f2f2" stroke-width="0.9"/><rect x="302.36" y="311.0" width="1.96" height="2.5" fill="#000" stroke="#f2f2f2" stroke-width="0.85"/>
<path d="M306.03 311.3V312.5M306.03 319.0V320.2" stroke="#f2f2f2" stroke-width="0.9"/><rect x="305.05" y="312.5" width="1.96" height="6.5" fill="#000" stroke="#f2f2f2" stroke-width="0.85"/>
<path d="M308.71 312.3V313.5M308.71 317.0V318.2" stroke="#f2f2f2" stroke-width="0.9"/><rect x="307.73" y="313.5" width="1.96" height="3.5" fill="#000" stroke="#f2f2f2" stroke-width="0.85"/>
<path d="M311.39 309.0V322.8" stroke="#2f7fe6" stroke-width="0.9"/><rect x="310.54" y="316.0" width="1.7" height="5.6" fill="#2f7fe6"/>
<path d="M314.08 315.8V323.7" stroke="#2f7fe6" stroke-width="0.9"/><rect x="313.23" y="317.0" width="1.7" height="5.5" fill="#2f7fe6"/>
<path d="M316.76 326.4V327.6M316.76 330.7V331.9" stroke="#f2f2f2" stroke-width="0.9"/><rect x="315.78" y="327.6" width="1.96" height="3.1" fill="#000" stroke="#f2f2f2" stroke-width="0.85"/>
<path d="M319.45 313.2V314.4M319.45 321.6V322.8" stroke="#f2f2f2" stroke-width="0.9"/><rect x="318.47" y="314.4" width="1.96" height="7.2" fill="#000" stroke="#f2f2f2" stroke-width="0.85"/>
<path d="M322.13 311.8V313.0M322.13 315.3V316.5" stroke="#f2f2f2" stroke-width="0.9"/><rect x="321.15" y="313.0" width="1.96" height="2.3" fill="#000" stroke="#f2f2f2" stroke-width="0.85"/>
<path d="M324.81 305.8V316.2" stroke="#2f7fe6" stroke-width="0.9"/><rect x="323.96" y="307.0" width="1.7" height="8.0" fill="#2f7fe6"/>
<path d="M327.50 315.8V329.8" stroke="#2f7fe6" stroke-width="0.9"/><rect x="326.65" y="317.0" width="1.7" height="7.3" fill="#2f7fe6"/>
<path d="M330.18 315.8V317.0M330.18 323.4V324.6" stroke="#f2f2f2" stroke-width="0.9"/><rect x="329.20" y="317.0" width="1.96" height="6.4" fill="#000" stroke="#f2f2f2" stroke-width="0.85"/>
<path d="M332.87 305.8V307.0M332.87 318.0V319.2" stroke="#f2f2f2" stroke-width="0.9"/><rect x="331.89" y="307.0" width="1.96" height="11.0" fill="#000" stroke="#f2f2f2" stroke-width="0.85"/>
<path d="M335.55 300.5V301.7M335.55 305.3V306.5" stroke="#f2f2f2" stroke-width="0.9"/><rect x="334.57" y="301.7" width="1.96" height="3.6" fill="#000" stroke="#f2f2f2" stroke-width="0.85"/>
<path d="M338.23 295.8V303.8" stroke="#2f7fe6" stroke-width="0.9"/><rect x="337.38" y="297.0" width="1.7" height="5.6" fill="#2f7fe6"/>
<path d="M340.92 295.8V302.2" stroke="#2f7fe6" stroke-width="0.9"/><rect x="340.07" y="297.0" width="1.7" height="4.0" fill="#2f7fe6"/>
<path d="M343.60 291.4V292.6M343.60 299.0V300.2" stroke="#f2f2f2" stroke-width="0.9"/><rect x="342.62" y="292.6" width="1.96" height="6.4" fill="#000" stroke="#f2f2f2" stroke-width="0.85"/>
<path d="M346.29 285.1V286.3M346.29 291.7V292.9" stroke="#f2f2f2" stroke-width="0.9"/><rect x="345.31" y="286.3" width="1.96" height="5.4" fill="#000" stroke="#f2f2f2" stroke-width="0.85"/>
<path d="M348.97 280.6V286.6" stroke="#2f7fe6" stroke-width="0.9"/><rect x="348.12" y="281.8" width="1.7" height="3.6" fill="#2f7fe6"/>
<path d="M351.65 282.5V283.7M351.65 288.0V289.2" stroke="#f2f2f2" stroke-width="0.9"/><rect x="350.67" y="283.7" width="1.96" height="4.3" fill="#000" stroke="#f2f2f2" stroke-width="0.85"/>
<path d="M354.34 288.8V296.7" stroke="#2f7fe6" stroke-width="0.9"/><rect x="353.49" y="290.0" width="1.7" height="5.5" fill="#2f7fe6"/>
<path d="M357.02 281.8V283.0M357.02 290.0V291.2" stroke="#f2f2f2" stroke-width="0.9"/><rect x="356.04" y="283.0" width="1.96" height="7.0" fill="#000" stroke="#f2f2f2" stroke-width="0.85"/>
<path d="M359.71 279.8V286.7" stroke="#2f7fe6" stroke-width="0.9"/><rect x="358.86" y="281.0" width="1.7" height="4.5" fill="#2f7fe6"/>
<path d="M362.39 280.8V282.0M362.39 285.5V286.7" stroke="#f2f2f2" stroke-width="0.9"/><rect x="361.41" y="282.0" width="1.96" height="3.5" fill="#000" stroke="#f2f2f2" stroke-width="0.85"/>
<path d="M365.07 279.8V289.2" stroke="#2f7fe6" stroke-width="0.9"/><rect x="364.22" y="281.0" width="1.7" height="7.0" fill="#2f7fe6"/>
<path d="M367.76 282.5V283.7M367.76 288.0V293.0" stroke="#f2f2f2" stroke-width="0.9"/><rect x="366.78" y="283.7" width="1.96" height="4.3" fill="#000" stroke="#f2f2f2" stroke-width="0.85"/>
<path d="M370.44 268.8V270.0M370.44 278.0V279.2" stroke="#f2f2f2" stroke-width="0.9"/><rect x="369.46" y="270.0" width="1.96" height="8.0" fill="#000" stroke="#f2f2f2" stroke-width="0.85"/>
<path d="M373.13 264.4V265.6M373.13 268.3V269.5" stroke="#f2f2f2" stroke-width="0.9"/><rect x="372.15" y="265.6" width="1.96" height="2.7" fill="#000" stroke="#f2f2f2" stroke-width="0.85"/>
<path d="M375.81 260.8V262.0M375.81 264.7V265.9" stroke="#f2f2f2" stroke-width="0.9"/><rect x="374.83" y="262.0" width="1.96" height="2.7" fill="#000" stroke="#f2f2f2" stroke-width="0.85"/>
<path d="M378.49 258.8V265.2" stroke="#2f7fe6" stroke-width="0.9"/><rect x="377.64" y="260.0" width="1.7" height="4.0" fill="#2f7fe6"/>
<path d="M381.18 258.8V260.0M381.18 264.0V265.2" stroke="#f2f2f2" stroke-width="0.9"/><rect x="380.20" y="260.0" width="1.96" height="4.0" fill="#000" stroke="#f2f2f2" stroke-width="0.85"/>
<path d="M383.86 260.8V270.2" stroke="#2f7fe6" stroke-width="0.9"/><rect x="383.01" y="262.0" width="1.7" height="7.0" fill="#2f7fe6"/>
<path d="M386.55 255.4V256.6M386.55 265.6V266.8" stroke="#f2f2f2" stroke-width="0.9"/><rect x="385.57" y="256.6" width="1.96" height="9.0" fill="#000" stroke="#f2f2f2" stroke-width="0.85"/>
<path d="M389.23 251.8V253.0M389.23 254.8V256.0" stroke="#f2f2f2" stroke-width="0.9"/><rect x="388.25" y="253.0" width="1.96" height="1.8" fill="#000" stroke="#f2f2f2" stroke-width="0.85"/>
<path d="M391.91 255.4V264.2" stroke="#2f7fe6" stroke-width="0.9"/><rect x="391.06" y="256.6" width="1.7" height="6.4" fill="#2f7fe6"/>
<path d="M394.60 251.8V253.0M394.60 258.4V259.6" stroke="#f2f2f2" stroke-width="0.9"/><rect x="393.62" y="253.0" width="1.96" height="5.4" fill="#000" stroke="#f2f2f2" stroke-width="0.85"/>
<path d="M397.28 249.8V251.0M397.28 253.0V254.2" stroke="#f2f2f2" stroke-width="0.9"/><rect x="396.30" y="251.0" width="1.96" height="2.0" fill="#000" stroke="#f2f2f2" stroke-width="0.85"/>
<path d="M399.97 248.1V249.3M399.97 252.0V253.2" stroke="#f2f2f2" stroke-width="0.9"/><rect x="398.99" y="249.3" width="1.96" height="2.7" fill="#000" stroke="#f2f2f2" stroke-width="0.85"/>
<path d="M402.65 247.2V248.4M402.65 251.0V252.2" stroke="#f2f2f2" stroke-width="0.9"/><rect x="401.67" y="248.4" width="1.96" height="2.6" fill="#000" stroke="#f2f2f2" stroke-width="0.85"/>
<path d="M405.33 249.8V251.0M405.33 254.0V259.3" stroke="#f2f2f2" stroke-width="0.9"/><rect x="404.35" y="251.0" width="1.96" height="3.0" fill="#000" stroke="#f2f2f2" stroke-width="0.85"/>
<path d="M408.02 240.8V248.7" stroke="#2f7fe6" stroke-width="0.9"/><rect x="407.17" y="242.0" width="1.7" height="5.5" fill="#2f7fe6"/>
<path d="M410.70 248.1V249.3M410.70 253.0V259.3" stroke="#f2f2f2" stroke-width="0.9"/><rect x="409.72" y="249.3" width="1.96" height="3.7" fill="#000" stroke="#f2f2f2" stroke-width="0.85"/>
<path d="M413.39 245.4V246.6M413.39 249.3V250.5" stroke="#f2f2f2" stroke-width="0.9"/><rect x="412.41" y="246.6" width="1.96" height="2.7" fill="#000" stroke="#f2f2f2" stroke-width="0.85"/>
<path d="M416.07 243.6V244.8M416.07 247.5V248.7" stroke="#f2f2f2" stroke-width="0.9"/><rect x="415.09" y="244.8" width="1.96" height="2.7" fill="#000" stroke="#f2f2f2" stroke-width="0.85"/>
<path d="M418.75 239.8V246.9" stroke="#2f7fe6" stroke-width="0.9"/><rect x="417.90" y="241.0" width="1.7" height="4.7" fill="#2f7fe6"/>
<path d="M421.44 246.3V256.0" stroke="#2f7fe6" stroke-width="0.9"/><rect x="420.59" y="247.5" width="1.7" height="7.3" fill="#2f7fe6"/>
<path d="M424.12 252.8V254.0M424.12 258.4V259.6" stroke="#f2f2f2" stroke-width="0.9"/><rect x="423.14" y="254.0" width="1.96" height="4.4" fill="#000" stroke="#f2f2f2" stroke-width="0.85"/>
<path d="M426.81 252.8V254.0M426.81 257.5V258.7" stroke="#f2f2f2" stroke-width="0.9"/><rect x="425.83" y="254.0" width="1.96" height="3.5" fill="#000" stroke="#f2f2f2" stroke-width="0.85"/>
<path d="M429.49 253.6V254.8M429.49 257.5V258.7" stroke="#f2f2f2" stroke-width="0.9"/><rect x="428.51" y="254.8" width="1.96" height="2.7" fill="#000" stroke="#f2f2f2" stroke-width="0.85"/>
<path d="M432.17 245.4V246.6M432.17 249.3V250.5" stroke="#f2f2f2" stroke-width="0.9"/><rect x="431.19" y="246.6" width="1.96" height="2.7" fill="#000" stroke="#f2f2f2" stroke-width="0.85"/>
<path d="M434.86 239.8V241.0M434.86 247.5V248.7" stroke="#f2f2f2" stroke-width="0.9"/><rect x="433.88" y="241.0" width="1.96" height="6.5" fill="#000" stroke="#f2f2f2" stroke-width="0.85"/>
<path d="M437.54 239.8V246.9" stroke="#2f7fe6" stroke-width="0.9"/><rect x="436.69" y="241.0" width="1.7" height="4.7" fill="#2f7fe6"/>
<path d="M440.23 244.5V260.5" stroke="#2f7fe6" stroke-width="0.9"/><rect x="439.38" y="245.7" width="1.7" height="13.6" fill="#2f7fe6"/>
<path d="M442.91 260.8V262.0M442.91 271.0V272.2" stroke="#f2f2f2" stroke-width="0.9"/><rect x="441.93" y="262.0" width="1.96" height="9.0" fill="#000" stroke="#f2f2f2" stroke-width="0.85"/>
<path d="M445.59 255.4V256.6M445.59 260.3V261.5" stroke="#f2f2f2" stroke-width="0.9"/><rect x="444.61" y="256.6" width="1.96" height="3.7" fill="#000" stroke="#f2f2f2" stroke-width="0.85"/>
<path d="M448.28 252.8V264.8" stroke="#2f7fe6" stroke-width="0.9"/><rect x="447.43" y="254.0" width="1.7" height="3.6" fill="#2f7fe6"/>
<path d="M450.96 258.8V260.0M450.96 266.6V267.8" stroke="#f2f2f2" stroke-width="0.9"/><rect x="449.98" y="260.0" width="1.96" height="6.6" fill="#000" stroke="#f2f2f2" stroke-width="0.85"/>
<path d="M453.65 248.8V256.9" stroke="#2f7fe6" stroke-width="0.9"/><rect x="452.80" y="250.0" width="1.7" height="5.7" fill="#2f7fe6"/>
<path d="M456.33 249.8V251.0M456.33 255.7V256.9" stroke="#f2f2f2" stroke-width="0.9"/><rect x="455.35" y="251.0" width="1.96" height="4.7" fill="#000" stroke="#f2f2f2" stroke-width="0.85"/>
<path d="M459.01 243.8V253.2" stroke="#2f7fe6" stroke-width="0.9"/><rect x="458.16" y="245.0" width="1.7" height="7.0" fill="#2f7fe6"/>
<path d="M461.70 237.3V238.5M461.70 249.4V250.6" stroke="#f2f2f2" stroke-width="0.9"/><rect x="460.72" y="238.5" width="1.96" height="10.9" fill="#000" stroke="#f2f2f2" stroke-width="0.85"/>
<path d="M464.38 232.8V234.0M464.38 236.7V237.9" stroke="#f2f2f2" stroke-width="0.9"/><rect x="463.40" y="234.0" width="1.96" height="2.7" fill="#000" stroke="#f2f2f2" stroke-width="0.85"/>
<path d="M467.07 232.8V234.0M467.07 240.0V241.2" stroke="#f2f2f2" stroke-width="0.9"/><rect x="466.09" y="234.0" width="1.96" height="6.0" fill="#000" stroke="#f2f2f2" stroke-width="0.85"/>
<path d="M469.75 238.2V246.2" stroke="#2f7fe6" stroke-width="0.9"/><rect x="468.90" y="239.4" width="1.7" height="5.6" fill="#2f7fe6"/>
<path d="M472.43 241.8V247.9" stroke="#2f7fe6" stroke-width="0.9"/><rect x="471.58" y="243.0" width="1.7" height="3.7" fill="#2f7fe6"/>
<path d="M475.12 240.8V253.2" stroke="#2f7fe6" stroke-width="0.9"/><rect x="474.27" y="242.0" width="1.7" height="10.0" fill="#2f7fe6"/>
<path d="M477.80 252.8V254.0M477.80 257.6V266.6" stroke="#f2f2f2" stroke-width="0.9"/><rect x="476.82" y="254.0" width="1.96" height="3.6" fill="#000" stroke="#f2f2f2" stroke-width="0.85"/>
<path d="M480.49 252.8V258.8" stroke="#2f7fe6" stroke-width="0.9"/><rect x="479.64" y="254.0" width="1.7" height="3.6" fill="#2f7fe6"/>
<path d="M483.17 238.8V240.0M483.17 256.7V257.9" stroke="#f2f2f2" stroke-width="0.9"/><rect x="482.19" y="240.0" width="1.96" height="16.7" fill="#000" stroke="#f2f2f2" stroke-width="0.85"/>
<path d="M485.85 238.8V240.0M485.85 246.7V247.9" stroke="#f2f2f2" stroke-width="0.9"/><rect x="484.87" y="240.0" width="1.96" height="6.7" fill="#000" stroke="#f2f2f2" stroke-width="0.85"/>
<path d="M488.54 238.8V240.0M488.54 243.0V244.2" stroke="#f2f2f2" stroke-width="0.9"/><rect x="487.56" y="240.0" width="1.96" height="3.0" fill="#000" stroke="#f2f2f2" stroke-width="0.85"/>
<path d="M491.22 238.2V239.4M491.22 242.0V243.2" stroke="#f2f2f2" stroke-width="0.9"/><rect x="490.24" y="239.4" width="1.96" height="2.6" fill="#000" stroke="#f2f2f2" stroke-width="0.85"/>
<path d="M493.91 233.8V235.0M493.91 240.0V241.2" stroke="#f2f2f2" stroke-width="0.9"/><rect x="492.93" y="235.0" width="1.96" height="5.0" fill="#000" stroke="#f2f2f2" stroke-width="0.85"/>
<path d="M496.59 241.8V255.2" stroke="#2f7fe6" stroke-width="0.9"/><rect x="495.74" y="243.0" width="1.7" height="11.0" fill="#2f7fe6"/>
<path d="M499.27 255.4V256.6M499.27 264.8V266.0" stroke="#f2f2f2" stroke-width="0.9"/><rect x="498.29" y="256.6" width="1.96" height="8.2" fill="#000" stroke="#f2f2f2" stroke-width="0.85"/>
<path d="M501.96 256.3V257.5M501.96 262.0V263.2" stroke="#f2f2f2" stroke-width="0.9"/><rect x="500.98" y="257.5" width="1.96" height="4.5" fill="#000" stroke="#f2f2f2" stroke-width="0.85"/>
<path d="M504.64 250.8V252.0M504.64 261.0V262.2" stroke="#f2f2f2" stroke-width="0.9"/><rect x="503.66" y="252.0" width="1.96" height="9.0" fill="#000" stroke="#f2f2f2" stroke-width="0.85"/>
<path d="M507.33 240.8V242.0M507.33 245.0V250.3" stroke="#f2f2f2" stroke-width="0.9"/><rect x="506.35" y="242.0" width="1.96" height="3.0" fill="#000" stroke="#f2f2f2" stroke-width="0.85"/>
<path d="M510.01 238.2V239.4M510.01 241.3V242.5" stroke="#f2f2f2" stroke-width="0.9"/><rect x="509.03" y="239.4" width="1.96" height="1.9" fill="#000" stroke="#f2f2f2" stroke-width="0.85"/>
<path d="M512.69 238.2V239.4M512.69 243.0V244.2" stroke="#f2f2f2" stroke-width="0.9"/><rect x="511.71" y="239.4" width="1.96" height="3.6" fill="#000" stroke="#f2f2f2" stroke-width="0.85"/>
<path d="M515.38 227.4V228.6M515.38 232.2V233.4" stroke="#f2f2f2" stroke-width="0.9"/><rect x="514.40" y="228.6" width="1.96" height="3.6" fill="#000" stroke="#f2f2f2" stroke-width="0.85"/>
<path d="M518.06 221.8V228.9" stroke="#2f7fe6" stroke-width="0.9"/><rect x="517.21" y="223.0" width="1.7" height="4.7" fill="#2f7fe6"/>
<path d="M520.75 223.8V228.9" stroke="#2f7fe6" stroke-width="0.9"/><rect x="519.90" y="225.0" width="1.7" height="2.7" fill="#2f7fe6"/>
<path d="M523.43 220.8V222.0M523.43 226.8V228.0" stroke="#f2f2f2" stroke-width="0.9"/><rect x="522.45" y="222.0" width="1.96" height="4.8" fill="#000" stroke="#f2f2f2" stroke-width="0.85"/>
<path d="M526.11 217.4V218.6M526.11 222.0V223.2" stroke="#f2f2f2" stroke-width="0.9"/><rect x="525.13" y="218.6" width="1.96" height="3.4" fill="#000" stroke="#f2f2f2" stroke-width="0.85"/>
<path d="M528.80 216.8V227.2" stroke="#2f7fe6" stroke-width="0.9"/><rect x="527.95" y="218.0" width="1.7" height="8.0" fill="#2f7fe6"/>
<path d="M531.48 202.2V203.4M531.48 208.8V210.0" stroke="#f2f2f2" stroke-width="0.9"/><rect x="530.50" y="203.4" width="1.96" height="5.4" fill="#000" stroke="#f2f2f2" stroke-width="0.85"/>
<path d="M534.17 205.8V211.8" stroke="#2f7fe6" stroke-width="0.9"/><rect x="533.32" y="207.0" width="1.7" height="3.6" fill="#2f7fe6"/>
<path d="M536.85 198.6V199.8M536.85 206.0V207.2" stroke="#f2f2f2" stroke-width="0.9"/><rect x="535.87" y="199.8" width="1.96" height="6.2" fill="#000" stroke="#f2f2f2" stroke-width="0.85"/>
<path d="M539.53 196.8V203.7" stroke="#2f7fe6" stroke-width="0.9"/><rect x="538.68" y="198.0" width="1.7" height="4.5" fill="#2f7fe6"/>
<path d="M542.22 201.3V202.5M542.22 209.7V210.9" stroke="#f2f2f2" stroke-width="0.9"/><rect x="541.24" y="202.5" width="1.96" height="7.2" fill="#000" stroke="#f2f2f2" stroke-width="0.85"/>
<path d="M544.90 202.2V203.4M544.90 212.5V216.0" stroke="#f2f2f2" stroke-width="0.9"/><rect x="543.92" y="203.4" width="1.96" height="9.1" fill="#000" stroke="#f2f2f2" stroke-width="0.85"/>
<path d="M547.59 201.3V202.5M547.59 206.0V207.2" stroke="#f2f2f2" stroke-width="0.9"/><rect x="546.61" y="202.5" width="1.96" height="3.5" fill="#000" stroke="#f2f2f2" stroke-width="0.85"/>
<path d="M550.27 192.2V202.8" stroke="#2f7fe6" stroke-width="0.9"/><rect x="549.42" y="193.4" width="1.7" height="8.2" fill="#2f7fe6"/>
<path d="M552.95 195.8V197.0M552.95 202.5V203.7" stroke="#f2f2f2" stroke-width="0.9"/><rect x="551.97" y="197.0" width="1.96" height="5.5" fill="#000" stroke="#f2f2f2" stroke-width="0.85"/>
<path d="M555.64 185.8V187.0M555.64 200.7V201.9" stroke="#f2f2f2" stroke-width="0.9"/><rect x="554.66" y="187.0" width="1.96" height="13.7" fill="#000" stroke="#f2f2f2" stroke-width="0.85"/>
<path d="M558.32 174.1V182.0" stroke="#2f7fe6" stroke-width="0.9"/><rect x="557.47" y="175.3" width="1.7" height="5.5" fill="#2f7fe6"/>
<path d="M561.01 173.2V182.9" stroke="#2f7fe6" stroke-width="0.9"/><rect x="560.16" y="174.4" width="1.7" height="7.3" fill="#2f7fe6"/>
<path d="M563.69 156.8V171.2" stroke="#2f7fe6" stroke-width="0.9"/><rect x="562.84" y="158.0" width="1.7" height="12.0" fill="#2f7fe6"/>
<path d="M566.37 156.0V172.9" stroke="#2f7fe6" stroke-width="0.9"/><rect x="565.52" y="157.2" width="1.7" height="14.5" fill="#2f7fe6"/>
<path d="M569.06 156.8V158.0M569.06 177.0V178.2" stroke="#c4c4c4" stroke-width="0.9"/><rect x="568.08" y="158.0" width="1.96" height="19.0" fill="#8e8e8e" stroke="#c4c4c4" stroke-width="0.85"/>
<path d="M571.74 156.8V158.0M571.74 161.7V162.9" stroke="#f2f2f2" stroke-width="0.9"/><rect x="570.76" y="158.0" width="1.96" height="3.7" fill="#000" stroke="#f2f2f2" stroke-width="0.85"/>
<path d="M574.43 156.8V195.5" stroke="#2f7fe6" stroke-width="0.9"/><rect x="573.58" y="158.0" width="1.7" height="36.3" fill="#2f7fe6"/>
<path d="M577.11 167.8V169.0M577.11 177.0V178.2" stroke="#f2f2f2" stroke-width="0.9"/><rect x="576.13" y="169.0" width="1.96" height="8.0" fill="#000" stroke="#f2f2f2" stroke-width="0.85"/>
<path d="M579.79 170.5V183.8" stroke="#2f7fe6" stroke-width="0.9"/><rect x="578.94" y="171.7" width="1.7" height="10.9" fill="#2f7fe6"/>
<path d="M582.48 164.2V165.4M582.48 175.3V176.5" stroke="#f2f2f2" stroke-width="0.9"/><rect x="581.50" y="165.4" width="1.96" height="9.9" fill="#000" stroke="#f2f2f2" stroke-width="0.85"/>
<path d="M585.16 155.8V164.7" stroke="#2f7fe6" stroke-width="0.9"/><rect x="584.31" y="157.0" width="1.7" height="6.5" fill="#2f7fe6"/>
<path d="M587.85 162.3V163.5M587.85 172.6V173.8" stroke="#f2f2f2" stroke-width="0.9"/><rect x="586.87" y="163.5" width="1.96" height="9.1" fill="#000" stroke="#f2f2f2" stroke-width="0.85"/>
<path d="M590.53 151.5V152.7M590.53 158.0V159.2" stroke="#f2f2f2" stroke-width="0.9"/><rect x="589.55" y="152.7" width="1.96" height="5.3" fill="#000" stroke="#f2f2f2" stroke-width="0.85"/>
<path d="M593.21 155.8V163.8" stroke="#2f7fe6" stroke-width="0.9"/><rect x="592.36" y="157.0" width="1.7" height="5.6" fill="#2f7fe6"/>
<path d="M595.90 160.5V182.6" stroke="#2f7fe6" stroke-width="0.9"/><rect x="595.05" y="161.7" width="1.7" height="11.8" fill="#2f7fe6"/>
<path d="M598.58 157.8V159.0M598.58 175.5V176.7" stroke="#c4c4c4" stroke-width="0.9"/><rect x="597.60" y="159.0" width="1.96" height="16.5" fill="#8e8e8e" stroke="#c4c4c4" stroke-width="0.85"/>
<path d="M601.27 144.8V146.0M601.27 150.4V151.6" stroke="#f2f2f2" stroke-width="0.9"/><rect x="600.29" y="146.0" width="1.96" height="4.4" fill="#000" stroke="#f2f2f2" stroke-width="0.85"/>
<path d="M603.95 132.8V134.0M603.95 140.4V141.6" stroke="#f2f2f2" stroke-width="0.9"/><rect x="602.97" y="134.0" width="1.96" height="6.4" fill="#000" stroke="#f2f2f2" stroke-width="0.85"/>
<path d="M606.63 130.2V131.4M606.63 136.0V137.2" stroke="#f2f2f2" stroke-width="0.9"/><rect x="605.65" y="131.4" width="1.96" height="4.6" fill="#000" stroke="#f2f2f2" stroke-width="0.85"/>
<path d="M609.32 117.4V128.0" stroke="#2f7fe6" stroke-width="0.9"/><rect x="608.47" y="119.0" width="1.7" height="7.8" fill="#2f7fe6"/>
<path d="M612.00 120.2V133.5" stroke="#2f7fe6" stroke-width="0.9"/><rect x="611.15" y="121.4" width="1.7" height="10.9" fill="#2f7fe6"/>
<path d="M614.69 118.4V134.0" stroke="#2f7fe6" stroke-width="0.9"/><rect x="613.84" y="119.6" width="1.7" height="10.9" fill="#2f7fe6"/>
<path d="M617.37 119.3V128.9" stroke="#2f7fe6" stroke-width="0.9"/><rect x="616.52" y="120.5" width="1.7" height="7.2" fill="#2f7fe6"/>
<path d="M620.05 131.8V150.7" stroke="#2f7fe6" stroke-width="0.9"/><rect x="619.20" y="133.0" width="1.7" height="16.5" fill="#2f7fe6"/>
<path d="M622.74 125.0V132.3M622.74 146.8V148.0" stroke="#f2f2f2" stroke-width="0.9"/><rect x="621.76" y="132.3" width="1.96" height="14.5" fill="#000" stroke="#f2f2f2" stroke-width="0.85"/>
<path d="M625.42 145.6V151.6" stroke="#2f7fe6" stroke-width="0.9"/><rect x="624.57" y="146.8" width="1.7" height="3.6" fill="#2f7fe6"/>
<path d="M628.11 150.1V151.3M628.11 154.0V171.0" stroke="#f2f2f2" stroke-width="0.9"/><rect x="627.13" y="151.3" width="1.96" height="2.7" fill="#000" stroke="#f2f2f2" stroke-width="0.85"/>
<path d="M630.79 132.8V134.0M630.79 142.0V143.2" stroke="#f2f2f2" stroke-width="0.9"/><rect x="629.81" y="134.0" width="1.96" height="8.0" fill="#000" stroke="#f2f2f2" stroke-width="0.85"/>
<path d="M633.47 137.4V149.8" stroke="#2f7fe6" stroke-width="0.9"/><rect x="632.62" y="138.6" width="1.7" height="10.0" fill="#2f7fe6"/>
<path d="M636.16 135.6V146.2" stroke="#2f7fe6" stroke-width="0.9"/><rect x="635.31" y="136.8" width="1.7" height="8.2" fill="#2f7fe6"/>
<path d="M638.84 145.6V167.9" stroke="#2f7fe6" stroke-width="0.9"/><rect x="637.99" y="146.8" width="1.7" height="19.9" fill="#2f7fe6"/>
<path d="M641.53 155.0V162.0M641.53 175.0V177.6" stroke="#c4c4c4" stroke-width="0.9"/><rect x="640.55" y="162.0" width="1.96" height="13.0" fill="#8e8e8e" stroke="#c4c4c4" stroke-width="0.85"/>
<path d="M644.21 154.6V170.6" stroke="#2f7fe6" stroke-width="0.9"/><rect x="643.36" y="155.8" width="1.7" height="13.6" fill="#2f7fe6"/>
<path d="M646.89 167.3V187.8" stroke="#2f7fe6" stroke-width="0.9"/><rect x="646.04" y="168.5" width="1.7" height="18.1" fill="#2f7fe6"/>
<path d="M649.58 171.8V173.0M649.58 181.0V182.2" stroke="#f2f2f2" stroke-width="0.9"/><rect x="648.60" y="173.0" width="1.96" height="8.0" fill="#000" stroke="#f2f2f2" stroke-width="0.85"/>
<path d="M652.26 156.4V199.6" stroke="#2f7fe6" stroke-width="0.9"/><rect x="651.41" y="157.6" width="1.7" height="40.8" fill="#2f7fe6"/>
<path d="M654.95 187.5V194.8M654.95 198.4V213.0" stroke="#f2f2f2" stroke-width="0.9"/><rect x="653.97" y="194.8" width="1.96" height="3.6" fill="#000" stroke="#f2f2f2" stroke-width="0.85"/>
<path d="M657.63 169.1V170.3M657.63 188.4V189.6" stroke="#c4c4c4" stroke-width="0.9"/><rect x="656.65" y="170.3" width="1.96" height="18.1" fill="#8e8e8e" stroke="#c4c4c4" stroke-width="0.85"/>
<path d="M660.31 168.2V169.4M660.31 177.6V188.4" stroke="#f2f2f2" stroke-width="0.9"/><rect x="659.33" y="169.4" width="1.96" height="8.2" fill="#000" stroke="#f2f2f2" stroke-width="0.85"/>
<path d="M663.00 150.4V155.0M663.00 163.0V164.2" stroke="#f2f2f2" stroke-width="0.9"/><rect x="662.02" y="155.0" width="1.96" height="8.0" fill="#000" stroke="#f2f2f2" stroke-width="0.85"/>
<path d="M665.68 144.7V145.9M665.68 154.0V155.2" stroke="#f2f2f2" stroke-width="0.9"/><rect x="664.70" y="145.9" width="1.96" height="8.1" fill="#000" stroke="#f2f2f2" stroke-width="0.85"/>
</g>
<line x1="0" y1="462.5" x2="688" y2="462.5" stroke="#c4c4c4" stroke-width="1"/>
<line x1="686.8" y1="87" x2="686.8" y2="462.5" stroke="#b4b4b4" stroke-width="1.4"/>
<path d="M686.6 459.9L692.5 462.4L686.6 463z" fill="#f2f2f2"/>
<line x1="53.75" y1="462.5" x2="53.75" y2="465.6" stroke="#c4c4c4" stroke-width="1"/>
<line x1="107.5" y1="462.5" x2="107.5" y2="465.6" stroke="#c4c4c4" stroke-width="1"/>
<line x1="158.6" y1="462.5" x2="158.6" y2="465.6" stroke="#c4c4c4" stroke-width="1"/>
<line x1="215.1" y1="462.5" x2="215.1" y2="465.6" stroke="#c4c4c4" stroke-width="1"/>
<line x1="270.9" y1="462.5" x2="270.9" y2="465.6" stroke="#c4c4c4" stroke-width="1"/>
<line x1="327.7" y1="462.5" x2="327.7" y2="465.6" stroke="#c4c4c4" stroke-width="1"/>
<line x1="381.1" y1="462.5" x2="381.1" y2="465.6" stroke="#c4c4c4" stroke-width="1"/>
<line x1="440.1" y1="462.5" x2="440.1" y2="465.6" stroke="#c4c4c4" stroke-width="1"/>
<line x1="496.6" y1="462.5" x2="496.6" y2="465.6" stroke="#c4c4c4" stroke-width="1"/>
<line x1="552.6" y1="462.5" x2="552.6" y2="465.6" stroke="#c4c4c4" stroke-width="1"/>
<line x1="614.6" y1="462.5" x2="614.6" y2="465.6" stroke="#c4c4c4" stroke-width="1"/>
<line x1="665.7" y1="462.5" x2="665.7" y2="465.6" stroke="#c4c4c4" stroke-width="1"/>
<line x1="687" y1="88.9" x2="689.6" y2="88.9" stroke="#c4c4c4" stroke-width="1"/>
<path d="M686.6 106.20L692.3 108.50L686.6 110.80z" fill="#f2f2f2"/>
<text x="693.8" y="112.8" font-size="11" fill="#d4d4d4" textLength="21.4" lengthAdjust="spacingAndGlyphs" xml:space="preserve">7500</text>
<line x1="687" y1="128.10" x2="689.6" y2="128.10" stroke="#c4c4c4" stroke-width="1"/>
<path d="M686.6 145.45L692.3 147.75L686.6 150.05z" fill="#f2f2f2"/>
<line x1="687" y1="167.35" x2="689.6" y2="167.35" stroke="#c4c4c4" stroke-width="1"/>
<path d="M686.6 184.70L692.3 187.00L686.6 189.30z" fill="#f2f2f2"/>
<text x="693.8" y="191.3" font-size="11" fill="#d4d4d4" textLength="21.4" lengthAdjust="spacingAndGlyphs" xml:space="preserve">6500</text>
<line x1="687" y1="206.60" x2="689.6" y2="206.60" stroke="#c4c4c4" stroke-width="1"/>
<path d="M686.6 223.95L692.3 226.25L686.6 228.55z" fill="#f2f2f2"/>
<text x="693.8" y="230.55" font-size="11" fill="#d4d4d4" textLength="21.4" lengthAdjust="spacingAndGlyphs" xml:space="preserve">6000</text>
<line x1="687" y1="245.85" x2="689.6" y2="245.85" stroke="#c4c4c4" stroke-width="1"/>
<path d="M686.6 263.20L692.3 265.50L686.6 267.80z" fill="#f2f2f2"/>
<line x1="687" y1="285.10" x2="689.6" y2="285.10" stroke="#c4c4c4" stroke-width="1"/>
<path d="M686.6 302.45L692.3 304.75L686.6 307.05z" fill="#f2f2f2"/>
<text x="693.8" y="309.05" font-size="11" fill="#d4d4d4" textLength="21.4" lengthAdjust="spacingAndGlyphs" xml:space="preserve">5000</text>
<line x1="687" y1="324.35" x2="689.6" y2="324.35" stroke="#c4c4c4" stroke-width="1"/>
<path d="M686.6 341.70L692.3 344.00L686.6 346.30z" fill="#f2f2f2"/>
<text x="693.8" y="348.3" font-size="11" fill="#d4d4d4" textLength="21.4" lengthAdjust="spacingAndGlyphs" xml:space="preserve">4500</text>
<line x1="687" y1="363.60" x2="689.6" y2="363.60" stroke="#c4c4c4" stroke-width="1"/>
<path d="M686.6 380.95L692.3 383.25L686.6 385.55z" fill="#f2f2f2"/>
<text x="693.8" y="387.55" font-size="11" fill="#d4d4d4" textLength="21.4" lengthAdjust="spacingAndGlyphs" xml:space="preserve">4000</text>
<line x1="687" y1="402.85" x2="689.6" y2="402.85" stroke="#c4c4c4" stroke-width="1"/>
<path d="M686.6 420.20L692.3 422.50L686.6 424.80z" fill="#f2f2f2"/>
<text x="693.8" y="426.8" font-size="11" fill="#d4d4d4" textLength="21.4" lengthAdjust="spacingAndGlyphs" xml:space="preserve">3500</text>
<line x1="687" y1="442.10" x2="689.6" y2="442.10" stroke="#c4c4c4" stroke-width="1"/>
<path d="M687.3 146.2L692 140.2H736V152.2H692z" fill="#f4f4f4"/>
<text x="693.5" y="150.2" font-size="11" fill="#1a1a1a" textLength="40.5" lengthAdjust="spacingAndGlyphs" xml:space="preserve">7025.150</text>
<path d="M687.3 167.3L692 161.3H736V173.3H692z" fill="#e5189c"/>
<text x="693.5" y="171.3" font-size="11" fill="#ffffff" textLength="40.5" lengthAdjust="spacingAndGlyphs" xml:space="preserve">6759.047</text>
<path d="M687.3 206L692 200H736V212H692z" fill="#22b53e"/>
<text x="693.5" y="210" font-size="11" fill="#ffffff" textLength="40.5" lengthAdjust="spacingAndGlyphs" xml:space="preserve">6257.208</text>
<path d="M687.3 266.9L692 260.9H736V272.9H692z" fill="#f2e628"/>
<text x="693.5" y="270.9" font-size="11" fill="#1a1a00" textLength="40.5" lengthAdjust="spacingAndGlyphs" xml:space="preserve">5485.912</text>
<text x="16.5" y="473.8" font-size="11" fill="#cdcdcd" textLength="17.2" lengthAdjust="spacingAndGlyphs" xml:space="preserve">Dec</text>
<text x="72.5" y="473.8" font-size="11" fill="#cdcdcd" textLength="16.2" lengthAdjust="spacingAndGlyphs" xml:space="preserve">Jan</text>
<text x="124.5" y="473.8" font-size="11" fill="#cdcdcd" textLength="16.5" lengthAdjust="spacingAndGlyphs" xml:space="preserve">Feb</text>
<text x="177.5" y="473.8" font-size="11" fill="#cdcdcd" textLength="16.5" lengthAdjust="spacingAndGlyphs" xml:space="preserve">Mar</text>
<text x="235" y="473.8" font-size="11" fill="#cdcdcd" textLength="15" lengthAdjust="spacingAndGlyphs" xml:space="preserve">Apr</text>
<text x="290" y="473.8" font-size="11" fill="#cdcdcd" textLength="17.7" lengthAdjust="spacingAndGlyphs" xml:space="preserve">May</text>
<text x="346" y="473.8" font-size="11" fill="#cdcdcd" textLength="16.7" lengthAdjust="spacingAndGlyphs" xml:space="preserve">Jun</text>
<text x="404" y="473.8" font-size="11" fill="#cdcdcd" textLength="14" lengthAdjust="spacingAndGlyphs" xml:space="preserve">Jul</text>
<text x="459" y="473.8" font-size="11" fill="#cdcdcd" textLength="16.5" lengthAdjust="spacingAndGlyphs" xml:space="preserve">Aug</text>
<text x="516" y="473.8" font-size="11" fill="#cdcdcd" textLength="16.5" lengthAdjust="spacingAndGlyphs" xml:space="preserve">Sep</text>
<text x="575.75" y="473.8" font-size="11" fill="#cdcdcd" textLength="15.7" lengthAdjust="spacingAndGlyphs" xml:space="preserve">Oct</text>
<text x="630.75" y="473.8" font-size="11" fill="#cdcdcd" textLength="17" lengthAdjust="spacingAndGlyphs" xml:space="preserve">Nov</text>
<text x="16" y="486.8" font-size="11" fill="#cdcdcd" textLength="21.5" lengthAdjust="spacingAndGlyphs" xml:space="preserve">2024</text>
<text x="359" y="486.8" font-size="11" fill="#cdcdcd" textLength="21.3" lengthAdjust="spacingAndGlyphs" xml:space="preserve">2025</text>
<line x1="53.75" y1="475" x2="53.75" y2="488.8" stroke="#9a9a9a" stroke-width="1"/>
<g stroke="#808080" stroke-width="0.9" fill="none"><rect x="8.2" y="98" width="4.8" height="4.8"/><path d="M9.4 100.4h2.4"/><path d="M10.6 103V177M10.6 114.5h3.2M10.6 127h3.2M10.6 139.5h3.2M10.6 152h3.2M10.6 164.5h3.2M10.6 177h3.2"/></g>
<rect x="16.4" y="96.2" width="9.7" height="9.4" fill="#ffffff"/>
<g stroke="#a8a8a8" stroke-width="1" fill="none"><path d="M18.6 110h5M21.1 110v9.2"/><path d="M16.5 127h9.4M21.1 124.6v4.8"/><path d="M21.1 134.6v9.4M18.6 144h5"/></g>
<rect x="16.3" y="147.2" width="10.0" height="9.2" fill="#ea1a9e"/>
<rect x="16.3" y="159.7" width="10.0" height="9.2" fill="#23b53e"/>
<rect x="16.3" y="172.2" width="10.0" height="9.2" fill="#f2e62a"/>
<text x="29.5" y="106.0" font-size="11" fill="#ececec" textLength="48.5" lengthAdjust="spacingAndGlyphs" xml:space="preserve">Last Price</text>
<text x="143.3" y="106.0" font-size="11" fill="#ececec" textLength="41.5" lengthAdjust="spacingAndGlyphs" xml:space="preserve">7025.150</text>
<text x="29.5" y="118.5" font-size="11" fill="#ececec" textLength="83" lengthAdjust="spacingAndGlyphs" xml:space="preserve">High on 10/29/25</text>
<text x="143.3" y="118.5" font-size="11" fill="#ececec" textLength="41.5" lengthAdjust="spacingAndGlyphs" xml:space="preserve">7392.641</text>
<text x="29.5" y="131.0" font-size="11" fill="#ececec" textLength="36.8" lengthAdjust="spacingAndGlyphs" xml:space="preserve">Average</text>
<text x="143.3" y="131.0" font-size="11" fill="#ececec" textLength="41.5" lengthAdjust="spacingAndGlyphs" xml:space="preserve">5408.497</text>
<text x="29.5" y="143.5" font-size="11" fill="#ececec" textLength="80.5" lengthAdjust="spacingAndGlyphs" xml:space="preserve">Low on 04/07/25</text>
<text x="143.3" y="143.5" font-size="11" fill="#ececec" textLength="41.5" lengthAdjust="spacingAndGlyphs" xml:space="preserve">3388.623</text>
<text x="143.3" y="156.0" font-size="11" fill="#ececec" textLength="41.5" lengthAdjust="spacingAndGlyphs" xml:space="preserve">6759.047</text>
<text x="143.3" y="168.5" font-size="11" fill="#ececec" textLength="41.5" lengthAdjust="spacingAndGlyphs" xml:space="preserve">6257.208</text>
<text x="143.3" y="181.0" font-size="11" fill="#ececec" textLength="41.5" lengthAdjust="spacingAndGlyphs" xml:space="preserve">5485.912</text>
<text x="29.5" y="156" font-size="11" fill="#ececec" textLength="54.2" lengthAdjust="spacingAndGlyphs" xml:space="preserve">SMAVG (50)</text>
<text x="93" y="156" font-size="11" fill="#ececec" textLength="39.5" lengthAdjust="spacingAndGlyphs" xml:space="preserve">on Close</text>
<text x="29.5" y="168.5" font-size="11" fill="#ececec" textLength="60" lengthAdjust="spacingAndGlyphs" xml:space="preserve">SMAVG (100)</text>
<text x="98.3" y="168.5" font-size="11" fill="#ececec" textLength="39.7" lengthAdjust="spacingAndGlyphs" xml:space="preserve">on Close</text>
<text x="29.5" y="181" font-size="11" fill="#ececec" textLength="60" lengthAdjust="spacingAndGlyphs" xml:space="preserve">SMAVG (200)</text>
<text x="98.3" y="181" font-size="11" fill="#ececec" textLength="39.7" lengthAdjust="spacingAndGlyphs" xml:space="preserve">on Close</text>
<text x="74.5" y="494" font-size="8.8" fill="#f4f4f4" textLength="585" lengthAdjust="spacingAndGlyphs" class="m" xml:space="preserve" stroke="#f4f4f4" stroke-width="0.2">Australia 61 2 9777 8600 Brazil 5511 2395 9000 Europe 44 20 7330 7500 Germany 49 69 9204 1210 Hong Kong 852 2977 6000</text>
<text x="74.5" y="504" font-size="8.8" fill="#f4f4f4" textLength="585" lengthAdjust="spacingAndGlyphs" class="m" xml:space="preserve" stroke="#f4f4f4" stroke-width="0.2">Japan 81 3 4565 8900      Singapore 65 6212 1000      U.S. 1 212 318 2000       Copyright 2025 Bloomberg Finance L.P.</text>
<text x="448.5" y="513.6" font-size="8.8" fill="#f4f4f4" textLength="280" lengthAdjust="spacingAndGlyphs" class="m" xml:space="preserve" stroke="#f4f4f4" stroke-width="0.2">SN 3379190 EST  GMT-5:00 ba1914-173 30-Nov-2025 10:40:55</text>
</svg></body></html>
